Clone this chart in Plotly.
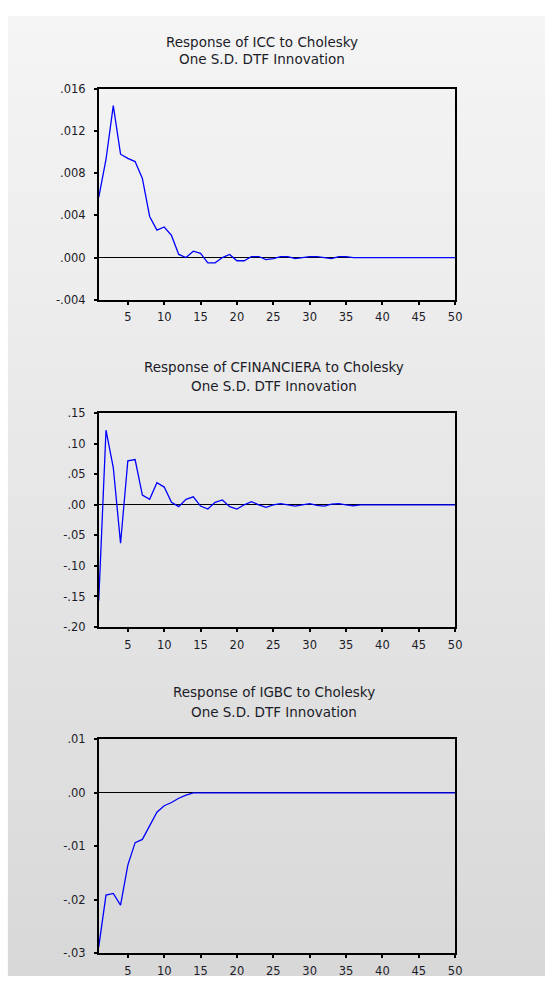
import plotly.graph_objects as go

# Impulse responses to a one S.D. DTF innovation (Cholesky), periods 1..50
periods = list(range(1, 51))

icc = [0.0057, 0.0093, 0.0144, 0.0098, 0.0094, 0.0091, 0.0075, 0.0039, 0.0026, 0.0029,
       0.0021, 0.0003, 0.0000, 0.0006, 0.0004, -0.0005, -0.0005, 0.0000, 0.0003, -0.0003,
       -0.0003, 0.0001, 0.0001, -0.0002, -0.0001, 0.0001, 0.0001, -0.0001, 0.0000, 0.0001,
       0.0001, 0.0000, -0.0001, 0.0001, 0.0001, 0.0000] + [0.0] * 14

cfinanciera = [-0.157, 0.122, 0.061, -0.063, 0.072, 0.074, 0.016, 0.009, 0.036, 0.029,
               0.004, -0.003, 0.009, 0.013, -0.002, -0.007, 0.004, 0.008, -0.003, -0.007,
               0.000, 0.005, 0.000, -0.004, 0.000, 0.002, 0.000, -0.002, 0.000, 0.002,
               -0.001, -0.002, 0.001, 0.002, 0.000, -0.0015] + [0.0] * 14

igbc = [-0.0288, -0.0191, -0.0188, -0.0210, -0.0135, -0.0093, -0.0087, -0.0062, -0.0036, -0.0024,
        -0.0018, -0.0010, -0.0004, 0.0000, 0.0000, 0.0000, 0.00005, 0.0001, 0.0000, 0.0] + [0.0] * 30

titles = [
    "Response of ICC to Cholesky<br>One S.D. DTF Innovation",
    "Response of CFINANCIERA to Cholesky<br>One S.D. DTF Innovation",
    "Response of IGBC to Cholesky<br>One S.D. DTF Innovation",
]

x_tickvals = [5, 10, 15, 20, 25, 30, 35, 40, 45, 50]
x_ticktext = ["5", "10", "15", "20", "25", "30", "35", "40", "45", "50"]

y1_tickvals = [-0.004, 0.0, 0.004, 0.008, 0.012, 0.016]
y1_ticktext = ["-.004", ".000", ".004", ".008", ".012", ".016"]
y2_tickvals = [-0.20, -0.15, -0.10, -0.05, 0.0, 0.05, 0.10, 0.15]
y2_ticktext = ["-.20", "-.15", "-.10", "-.05", ".00", ".05", ".10", ".15"]
y3_tickvals = [-0.03, -0.02, -0.01, 0.0, 0.01]
y3_ticktext = ["-.03", "-.02", "-.01", ".00", ".01"]

W, H = 552, 983
FONT = "DejaVu Sans"
TXT = "#1c1c28"

# panel geometry in pixels: (top, bottom)
panels = [(83, 297), (412, 629), (743, 960)]
x_left, x_right = 100, 461
title_centers = [(265, 35, 53), (278, 365, 384), (278, 695, 715)]

fig = go.Figure()

series = [icc, cfinanciera, igbc]
yranges = [(-0.004, 0.016), (-0.20, 0.15), (-0.03, 0.01)]
yticks = [(y1_tickvals, y1_ticktext), (y2_tickvals, y2_ticktext), (y3_tickvals, y3_ticktext)]

# background: white border with a soft grey vertical gradient
n_bands = 60
top_c, bot_c = 245, 216
x0 = 8 / W
y_top = 1 - 10 / H
shapes = []
for i in range(n_bands):
    f0 = i / n_bands
    f1 = (i + 1) / n_bands
    c = round(top_c + (bot_c - top_c) * (f0 + f1) / 2)
    shapes.append(dict(
        type="rect", xref="paper", yref="paper", layer="below",
        x0=x0, x1=1, y0=y_top - f1 * y_top, y1=y_top - f0 * y_top + 0.0005,
        fillcolor=f"rgb({c},{c},{c})", line=dict(width=0),
    ))

annotations = []
for k in range(3):
    ax = "" if k == 0 else str(k + 1)
    fig.add_trace(go.Scatter(
        x=periods, y=series[k], mode="lines",
        line=dict(color="#0000ff", width=1.3),
        xaxis="x" + ax, yaxis="y" + ax, showlegend=False,
    ))
    top, bot = panels[k]
    fig.update_layout(**{
        "xaxis" + ax: dict(
            domain=[x_left / W, x_right / W], range=[1, 50], anchor="y" + ax,
            tickvals=x_tickvals, ticktext=x_ticktext, ticks="outside", ticklen=3,
            tickwidth=1.5, tickcolor="black", showline=True, linecolor="black",
            linewidth=1.5, mirror=True, showgrid=False, zeroline=False,
            ticklabelstandoff=3,
            tickfont=dict(family=FONT, size=11.5, color=TXT),
        ),
        "yaxis" + ax: dict(
            domain=[1 - bot / H, 1 - top / H], range=list(yranges[k]), anchor="x" + ax,
            tickvals=yticks[k][0], ticktext=yticks[k][1], ticks="outside", ticklen=3,
            tickwidth=1.5, tickcolor="black", showline=True, linecolor="black",
            linewidth=1.5, mirror=True, showgrid=False, zeroline=True,
            zerolinecolor="black", zerolinewidth=1,
            ticklabelstandoff=6,
            tickfont=dict(family=FONT, size=11.5, color=TXT),
        ),
    })
    cx, ty1, ty2 = title_centers[k]
    for line_text, ty in zip(titles[k].split("<br>"), (ty1, ty2)):
        annotations.append(dict(
            text=line_text, xref="paper", yref="paper", x=cx / W, y=1 - ty / H,
            xanchor="center", yanchor="middle", showarrow=False,
            font=dict(family=FONT, size=13.5, color=TXT),
        ))

fig.update_layout(
    width=W, height=H, margin=dict(l=0, r=0, t=0, b=0),
    paper_bgcolor="white", plot_bgcolor="white",
    shapes=shapes, annotations=annotations,
)

fig.write_html("out.html")
